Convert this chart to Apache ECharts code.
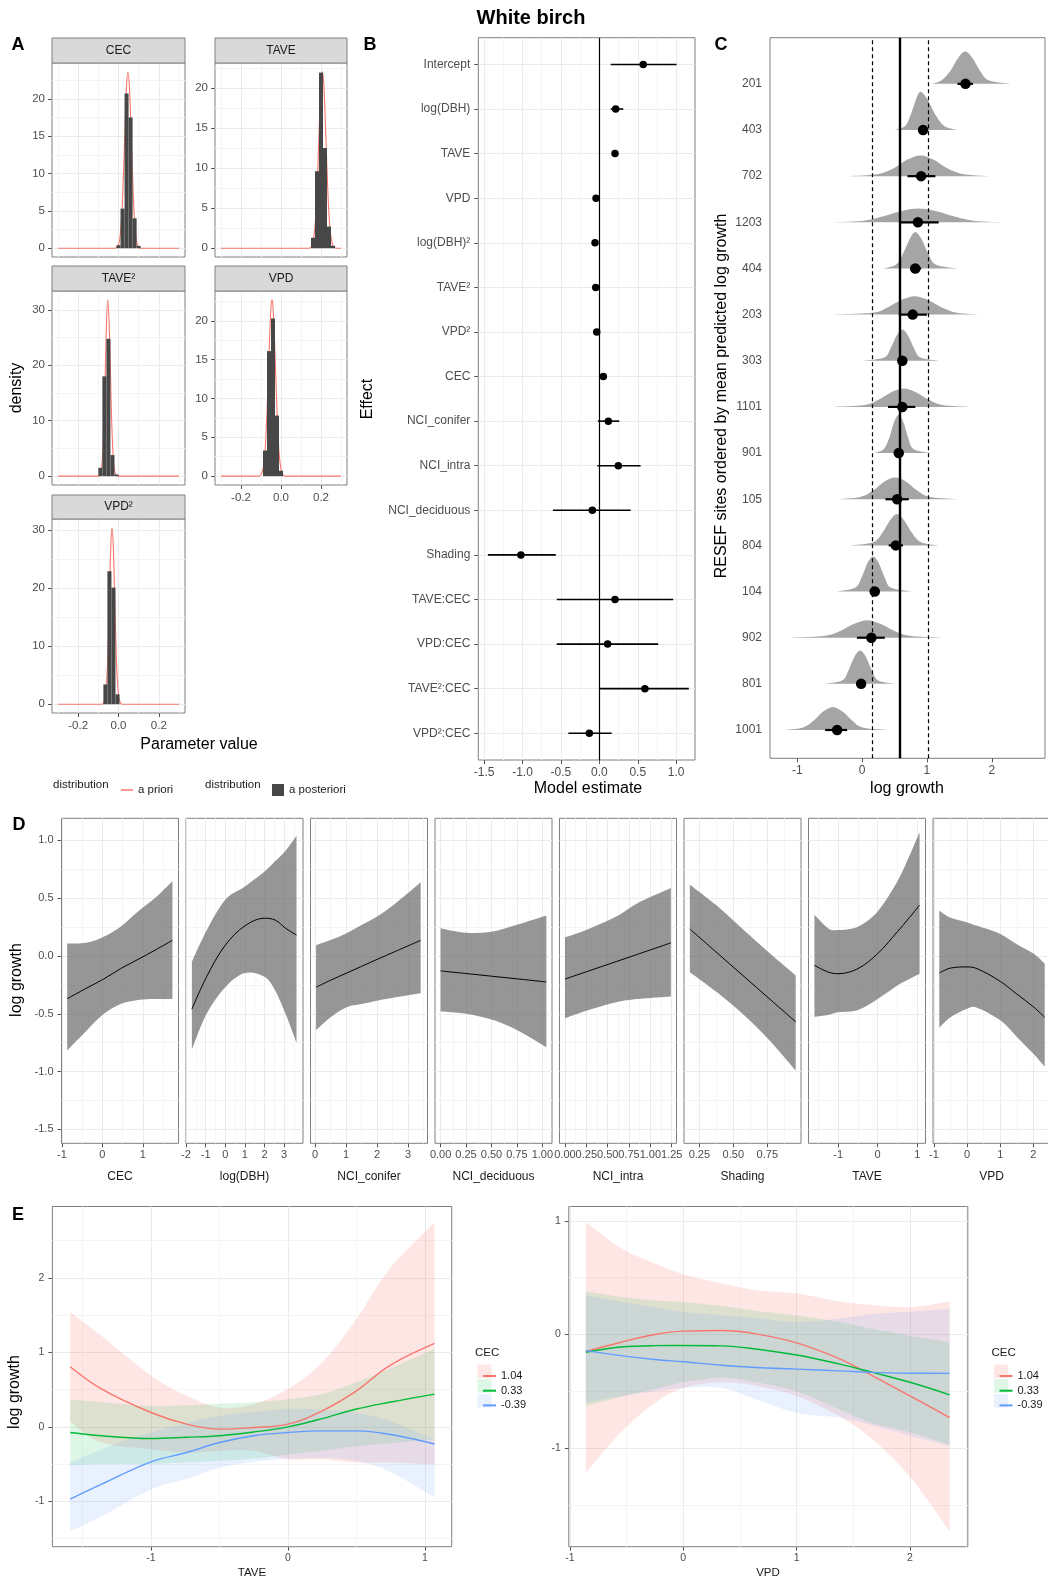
<!DOCTYPE html>
<html>
<head>
<meta charset="utf-8">
<title>White birch</title>
<script src="https://cdn.jsdelivr.net/npm/echarts@6/dist/echarts.min.js"></script>
<style>
  html, body { margin: 0; padding: 0; background: #fff; }
  #chart { width: 1048px; height: 1583px; }
</style>
</head>
<body>
<div id="chart"></div>
<script>
// ---------------- A: prior densities and posterior histograms ----------------
const paramNames = ['CEC', 'TAVE', 'TAVE²', 'VPD', 'VPD²'];

const priorCEC = [[-0.3,0],[-0.02,0],[0,0.5],[0.01,2.1],[0.02,6.6],[0.03,14.2],[0.04,21.7],[0.047,23.6],[0.055,21.1],[0.065,13.4],[0.075,6.0],[0.085,1.9],[0.095,0.4],[0.11,0],[0.3,0]];
const priorTAVE = [[-0.3,0],[0.14,0],[0.15,0.15],[0.16,0.8],[0.17,2.7],[0.18,7.3],[0.19,14.2],[0.2,20.4],[0.207,22.0],[0.215,20.0],[0.225,13.4],[0.235,6.6],[0.245,2.4],[0.255,0.7],[0.265,0.1],[0.28,0],[0.3,0]];
const priorTAVE2 = [[-0.3,0],[-0.1,0],[-0.09,0.4],[-0.08,3.1],[-0.07,12.6],[-0.06,27.2],[-0.053,31.8],[-0.045,25.9],[-0.035,11.3],[-0.025,2.6],[-0.015,0.3],[-0.005,0],[0.3,0]];
const priorVPD = [[-0.3,0],[-0.11,0],[-0.1,0.2],[-0.09,0.9],[-0.08,3.1],[-0.07,8.3],[-0.06,15.8],[-0.05,21.8],[-0.045,22.7],[-0.04,21.8],[-0.03,15.8],[-0.02,8.3],[-0.01,3.1],[0,0.9],[0.01,0.2],[0.02,0],[0.3,0]];
const priorVPD2 = [[-0.3,0],[-0.085,0],[-0.075,0.1],[-0.065,1.3],[-0.055,6.5],[-0.045,18.6],[-0.038,27.4],[-0.032,30.4],[-0.026,27.4],[-0.019,18.6],[-0.009,6.5],[0.001,1.3],[0.011,0.1],[0.02,0],[0.3,0]];
const priorCurves = [priorCEC, priorTAVE, priorTAVE2, priorVPD, priorVPD2];

const binWidth = 0.02;
const postEdges = [
  [-0.01, 0.01, 0.03, 0.05, 0.07, 0.09],
  [0.15, 0.17, 0.19, 0.21, 0.23, 0.25],
  [-0.1, -0.08, -0.06, -0.04, -0.02],
  [-0.09, -0.07, -0.05, -0.03, -0.01],
  [-0.075, -0.055, -0.035, -0.015]
];
const postDensity = [
  [0.4, 5.3, 20.7, 17.5, 4.0, 0.3],
  [1.3, 9.6, 21.9, 12.5, 2.7, 0.3],
  [1.5, 18.0, 24.8, 3.8, 0.3],
  [3.3, 16.1, 20.3, 7.8, 0.7],
  [3.4, 22.9, 20.1, 1.7]
];
const paramTicks = [-0.2, 0, 0.2];
const paramMinor = [-0.3, -0.1, 0.1, 0.3];
const densTicks = [[0,5,10,15,20],[0,5,10,15,20],[0,10,20,30],[0,5,10,15,20],[0,10,20,30]];
const densMinor = [[2.5,7.5,12.5,17.5,22.5],[2.5,7.5,12.5,17.5,22.5],[5,15,25],[2.5,7.5,12.5,17.5,22.5],[5,15,25]];
const densRange = [[-1.18,24.8],[-1.1,23.1],[-1.6,33.4],[-1.14,23.84],[-1.52,31.92]];

// ---------------- B: model estimates ----------------
const effects = ['Intercept','log(DBH)','TAVE','VPD','log(DBH)²','TAVE²','VPD²','CEC','NCI_conifer','NCI_intra','NCI_deciduous','Shading','TAVE:CEC','VPD:CEC','TAVE²:CEC','VPD²:CEC'];
const effectEst = [0.571, 0.213, 0.204, -0.043, -0.056, -0.047, -0.034, 0.052, 0.117, 0.247, -0.091, -1.021, 0.204, 0.108, 0.593, -0.13];
const effectLo  = [0.148, 0.148, 0.17, -0.07, -0.09, -0.07, -0.06, 0.03, -0.02, -0.026, -0.605, -1.45, -0.554, -0.554, 0.009, -0.403];
const effectHi  = [1.005, 0.312, 0.24, -0.02, -0.03, -0.02, -0.01, 0.08, 0.26, 0.537, 0.408, -0.566, 0.961, 0.766, 1.165, 0.16];
const estTicks = [-1.5, -1, -0.5, 0, 0.5, 1];
const estMinor = [-1.25, -0.75, -0.25, 0.25, 0.75];

// ---------------- C: predicted log growth per RESEF site ----------------
const sites    = ['201','403','702','1203','404','203','303','1101','901','105','804','104','902','801','1001'];
const siteMean = [1.594, 0.94, 0.91, 0.86, 0.82, 0.78, 0.62, 0.62, 0.565, 0.54, 0.52, 0.195, 0.143, -0.015, -0.385];
const siteLo   = [1.47, 0.88, 0.70, 0.575, 0.74, 0.565, 0.55, 0.40, 0.52, 0.36, 0.41, 0.12, -0.08, -0.09, -0.57];
const siteHi   = [1.71, 1.0, 1.13, 1.18, 0.91, 1.0, 0.69, 0.82, 0.61, 0.72, 0.63, 0.27, 0.35, 0.05, -0.23];
const ridgeX = [
  [1.08, 1.22, 1.36, 1.48, 1.59, 1.70, 1.82, 1.96, 2.29],
  [0.5, 0.66, 0.75, 0.83, 0.90, 1.01, 1.13, 1.27, 1.47],
  [-0.2, 0.25, 0.5, 0.7, 0.9, 1.1, 1.3, 1.55, 1.95],
  [-0.54, 0.0, 0.3, 0.59, 0.87, 1.15, 1.44, 1.74, 2.24],
  [0.32, 0.52, 0.63, 0.73, 0.82, 0.92, 1.02, 1.14, 1.47],
  [-0.54, 0.16, 0.4, 0.61, 0.81, 1.01, 1.22, 1.46, 1.83],
  [0.02, 0.34, 0.44, 0.53, 0.62, 0.71, 0.80, 0.90, 1.18],
  [-0.44, 0.04, 0.26, 0.45, 0.64, 0.83, 1.02, 1.24, 1.65],
  [0.17, 0.33, 0.42, 0.49, 0.565, 0.64, 0.71, 0.80, 1.1],
  [-0.39, -0.03, 0.17, 0.34, 0.51, 0.68, 0.85, 1.05, 1.52],
  [-0.18, 0.17, 0.31, 0.43, 0.54, 0.65, 0.77, 0.91, 1.18],
  [-0.39, -0.11, -0.01, 0.08, 0.17, 0.26, 0.35, 0.45, 0.77],
  [-1.1, -0.57, -0.33, -0.12, 0.08, 0.28, 0.49, 0.73, 1.23],
  [-0.57, -0.31, -0.21, -0.12, -0.03, 0.06, 0.15, 0.25, 0.49],
  [-1.21, -0.92, -0.75, -0.6, -0.45, -0.3, -0.15, 0.02, 0.44]
];
const ridgeH = [
  [0, .07, .28, .56, .70, .56, .28, .07, 0],
  [0, .08, .33, .66, .83, .66, .33, .08, 0],
  [0, .045, .18, .36, .45, .36, .18, .045, 0],
  [0, .03, .12, .24, .30, .24, .12, .03, 0],
  [0, .08, .32, .63, .79, .63, .32, .08, 0],
  [0, .04, .16, .32, .40, .32, .16, .04, 0],
  [0, .07, .27, .54, .68, .54, .27, .07, 0],
  [0, .04, .16, .32, .40, .32, .16, .04, 0],
  [0, .08, .33, .66, .83, .66, .33, .08, 0],
  [0, .05, .19, .38, .47, .38, .19, .05, 0],
  [0, .07, .27, .54, .68, .54, .27, .07, 0],
  [0, .08, .30, .61, .76, .61, .30, .08, 0],
  [0, .04, .15, .30, .38, .30, .15, .04, 0],
  [0, .07, .29, .58, .72, .58, .29, .07, 0],
  [0, .05, .20, .40, .50, .40, .20, .05, 0]
];
const growthMean = 0.58;
const growthBand = [0.154, 1.02];
const growthTicks = [-1, 0, 1, 2];

// ---------------- D: marginal effects ----------------
const effFacets = ['CEC','log(DBH)','NCI_conifer','NCI_deciduous','NCI_intra','Shading','TAVE','VPD'];
const effX = [
  [-0.87, -0.4, 0.03, 0.45, 0.88, 1.3, 1.73],
  [-1.7, -0.95, 0, 1, 2, 2.55, 3.07, 3.63],
  [0.03, 0.5, 1.0, 1.5, 2.0, 2.6, 3.41],
  [0, 0.25, 0.5, 0.75, 1.04],
  [0, 0.25, 0.6, 0.85, 1.24],
  [0.18, 0.38, 0.57, 0.77, 0.959],
  [-1.6, -1.25, -1.0, -0.5, 0, 0.5, 0.8, 1.06],
  [-0.84, -0.5, 0, 0.3, 1, 1.5, 2, 2.34]
];
const effFit = [
  [-0.37, -0.28, -0.2, -0.11, -0.03, 0.05, 0.135],
  [-0.46, -0.18, 0.093, 0.26, 0.326, 0.31, 0.24, 0.18],
  [-0.27, -0.21, -0.15, -0.09, -0.03, 0.04, 0.135],
  [-0.13, -0.152, -0.175, -0.198, -0.225],
  [-0.2, -0.137, -0.049, 0.014, 0.113],
  [0.233, 0.027, -0.169, -0.375, -0.57],
  [-0.081, -0.14, -0.154, -0.11, 0.02, 0.21, 0.33, 0.44],
  [-0.147, -0.105, -0.095, -0.11, -0.22, -0.33, -0.44, -0.53]
];
const effLo = [
  [-0.817, -0.648, -0.503, -0.416, -0.381, -0.372, -0.372],
  [-0.81, -0.50, -0.27, -0.148, -0.18, -0.30, -0.50, -0.75],
  [-0.642, -0.53, -0.445, -0.416, -0.387, -0.358, -0.323],
  [-0.48, -0.5, -0.55, -0.64, -0.79],
  [-0.54, -0.474, -0.40, -0.372, -0.35],
  [-0.14, -0.314, -0.503, -0.735, -0.99],
  [-0.526, -0.51, -0.488, -0.468, -0.372, -0.256, -0.2, -0.154],
  [-0.62, -0.53, -0.456, -0.447, -0.557, -0.70, -0.846, -0.956]
];
const effHi = [
  [0.108, 0.113, 0.166, 0.253, 0.384, 0.5, 0.645],
  [-0.05, 0.22, 0.485, 0.60, 0.73, 0.82, 0.91, 1.04],
  [0.093, 0.137, 0.195, 0.267, 0.34, 0.456, 0.637],
  [0.24, 0.2, 0.21, 0.27, 0.35],
  [0.16, 0.224, 0.34, 0.456, 0.587],
  [0.616, 0.433, 0.23, 0.02, -0.169],
  [0.355, 0.238, 0.224, 0.253, 0.384, 0.645, 0.863, 1.067],
  [0.39, 0.33, 0.29, 0.26, 0.19, 0.1, 0.02, -0.066]
];
const effTicks = [[-1,0,1],[-2,-1,0,1,2,3],[0,1,2,3],[0,0.25,0.5,0.75,1],[0,0.25,0.5,0.75,1,1.25],[0.25,0.5,0.75],[-1,0,1],[-1,0,1,2]];
const effMinor = [[-0.5,0.5,1.5],[-1.5,-0.5,0.5,1.5,2.5,3.5],[0.5,1.5,2.5,3.5],[0.125,0.375,0.625,0.875],[0.125,0.375,0.625,0.875,1.125],[0.375,0.625,0.875],[-1.5,-0.5,0.5],[-0.5,0.5,1.5,2.5]];
const effDecimals = [0, 0, 0, 2, 2, 2, 0, 0];
const effRange = [[-1.01,1.88],[-2.0,3.96],[-0.15,3.63],[-0.055,1.095],[-0.064,1.306],[0.137,0.998],[-1.75,1.21],[-1.03,2.5]];
const growthAxisTicks = [-1.5, -1, -0.5, 0, 0.5, 1];
const growthAxisMinor = [-1.25, -0.75, -0.25, 0.25, 0.75];

// ---------------- E: interactions with CEC ----------------
const cecLevels = ['1.04', '0.33', '-0.39'];
const taveX = [-1.59, -1.36, -1.0, -0.74, -0.5, -0.25, 0, 0.25, 0.5, 0.74, 1.07];
const taveFit = [
  [0.807, 0.507, 0.193, 0.036, -0.031, -0.009, 0.036, 0.215, 0.484, 0.82, 1.12],
  [-0.076, -0.12, -0.157, -0.14, -0.12, -0.07, 0, 0.11, 0.24, 0.33, 0.44],
  [-0.97, -0.77, -0.47, -0.345, -0.21, -0.12, -0.076, -0.054, -0.054, -0.1, -0.23]
];
const taveLo = [
  [0.07, -0.21, -0.3, -0.345, -0.32, -0.32, -0.435, -0.435, -0.48, -0.48, -0.51],
  [-0.52, -0.5, -0.5, -0.48, -0.46, -0.43, -0.37, -0.32, -0.26, -0.22, -0.17],
  [-1.4, -1.2, -0.84, -0.7, -0.55, -0.47, -0.43, -0.42, -0.46, -0.6, -0.95]
];
const taveHi = [
  [1.54, 1.22, 0.686, 0.417, 0.26, 0.305, 0.507, 0.865, 1.45, 2.12, 2.75],
  [0.37, 0.33, 0.28, 0.29, 0.31, 0.33, 0.37, 0.44, 0.6, 0.78, 1.05],
  [-0.48, -0.3, -0.076, 0.05, 0.15, 0.2, 0.24, 0.23, 0.19, 0.08, -0.17]
];
const vpdX = [-0.86, -0.55, -0.25, 0, 0.34, 0.64, 1.0, 1.38, 1.67, 2.0, 2.35];
const vpdFit = [
  [-0.15, -0.068, 0, 0.03, 0.035, 0.006, -0.074, -0.215, -0.363, -0.54, -0.73],
  [-0.156, -0.11, -0.098, -0.097, -0.1, -0.127, -0.18, -0.26, -0.333, -0.42, -0.53],
  [-0.142, -0.186, -0.22, -0.24, -0.27, -0.29, -0.304, -0.32, -0.333, -0.34, -0.342]
];
const vpdLo = [
  [-1.22, -0.86, -0.6, -0.47, -0.42, -0.45, -0.54, -0.72, -0.92, -1.25, -1.73],
  [-0.63, -0.55, -0.48, -0.42, -0.38, -0.42, -0.5, -0.66, -0.78, -0.86, -0.97],
  [-0.6, -0.54, -0.5, -0.47, -0.47, -0.57, -0.69, -0.73, -0.8, -0.89, -0.98]
];
const vpdHi = [
  [0.99, 0.76, 0.625, 0.53, 0.45, 0.39, 0.36, 0.29, 0.26, 0.24, 0.29],
  [0.38, 0.33, 0.30, 0.286, 0.25, 0.21, 0.168, 0.11, 0.05, -0.01, -0.068],
  [0.345, 0.286, 0.24, 0.2, 0.17, 0.145, 0.11, 0.14, 0.18, 0.2, 0.227]
];

// ---------------- styling ----------------
const FONT = '"Liberation Sans", Arial, Helvetica, sans-serif';
const GRID_MAJOR = '#ebebeb';
const GRID_MINOR = '#f5f5f5';
const BORDER = '#7f7f7f';
const TICK = '#555555';
const LABEL = '#4d4d4d';
const cecColors = ['#F8766D', '#00BA38', '#619CFF'];
const cecFills = ['rgba(248,118,109,0.18)', 'rgba(0,186,56,0.13)', 'rgba(97,156,255,0.14)'];

const option = {
  animation: false,
  backgroundColor: '#ffffff',
  textStyle: { fontFamily: FONT },
  grid: [], xAxis: [], yAxis: [], series: [], legend: [], graphic: []
};

function axisPair(dim, g, range, s) {
  const main = {
    type: 'value', gridIndex: g, min: range[0], max: range[1],
    position: dim === 'x' ? 'bottom' : 'left',
    axisLine: { show: false, onZero: false },
    axisTick: { show: !!s.ticks, length: 4, lineStyle: { color: TICK, width: 1 }, customValues: s.major },
    axisLabel: { show: !!s.labels, customValues: s.major, formatter: s.fmt, color: LABEL,
                 fontSize: s.fontSize || 11.5, margin: s.margin || 7, fontFamily: FONT },
    splitLine: { show: !!s.grid, lineStyle: { color: GRID_MAJOR, width: 1 } },
    minorTick: { show: false }, minorSplitLine: { show: false }
  };
  const minorVals = s.minor || [];
  const minor = {
    type: 'value', gridIndex: g, min: range[0], max: range[1],
    position: dim === 'x' ? 'top' : 'right',
    axisLine: { show: false, onZero: false },
    axisTick: { show: false, customValues: minorVals },
    axisLabel: { show: false, customValues: minorVals },
    splitLine: { show: !!s.grid && minorVals.length > 0, lineStyle: { color: GRID_MINOR, width: 1 } }
  };
  return [main, minor];
}

function panel(box, xr, yr, xs, ys) {
  const g = option.grid.length;
  option.grid.push({
    left: box[0], top: box[1], width: box[2], height: box[3],
    show: true, backgroundColor: '#ffffff', borderColor: BORDER, borderWidth: 1,
    containLabel: false, outerBoundsMode: 'none'
  });
  const xi = option.xAxis.length, yi = option.yAxis.length;
  option.xAxis.push(...axisPair('x', g, xr, xs));
  option.yAxis.push(...axisPair('y', g, yr, ys));
  return { x: xi, y: yi };
}

function txt(x, y, s, size, o) {
  o = o || {};
  option.graphic.push({
    type: 'text', x: x, y: y, z: 50, rotation: o.rot || 0, silent: true,
    style: { text: s, fill: o.fill || '#000', fontSize: size, fontFamily: FONT,
             fontWeight: o.weight || 'normal', textAlign: o.align || 'center', textVerticalAlign: 'middle' }
  });
}

function strip(x, y, w, h, s) {
  option.graphic.push({ type: 'rect', z: 40, silent: true, shape: { x: x, y: y, width: w, height: h },
    style: { fill: '#d9d9d9', stroke: BORDER, lineWidth: 1 } });
  txt(x + w / 2, y + h / 2, s, 12, { fill: '#1a1a1a' });
}

function barRect(params, api) {
  const a = api.coord([api.value(0), api.value(2)]);
  const b = api.coord([api.value(1), 0]);
  return { type: 'rect', shape: { x: a[0], y: a[1], width: b[0] - a[0], height: b[1] - a[1] },
           style: { fill: api.visual('color') } };
}

function segment(width) {
  return function (params, api) {
    const a = api.coord([api.value(0), api.value(2)]);
    const b = api.coord([api.value(1), api.value(2)]);
    return { type: 'line', shape: { x1: a[0], y1: a[1], x2: b[0], y2: b[1] },
             style: { stroke: '#000', lineWidth: width } };
  };
}

// cubic segments through pixel points (Catmull-Rom style, control x kept inside each span)
function curveThrough(pts, t) {
  let d = '';
  for (let i = 0; i < pts.length - 1; i++) {
    const p0 = pts[i - 1] || pts[i], p1 = pts[i], p2 = pts[i + 1], p3 = pts[i + 2] || pts[i + 1];
    let c1x = p1[0] + (p2[0] - p0[0]) * t, c1y = p1[1] + (p2[1] - p0[1]) * t;
    let c2x = p2[0] - (p3[0] - p1[0]) * t, c2y = p2[1] - (p3[1] - p1[1]) * t;
    const lo = Math.min(p1[0], p2[0]), hi = Math.max(p1[0], p2[0]);
    c1x = Math.min(hi, Math.max(lo, c1x));
    c2x = Math.min(hi, Math.max(lo, c2x));
    d += ' C' + c1x + ',' + c1y + ' ' + c2x + ',' + c2y + ' ' + p2[0] + ',' + p2[1];
  }
  return d;
}

// filled band between lo[] and hi[] over xs[], placed through the panel's axes
function band(ax, xs, lo, hi, fill, z) {
  option.series.push({
    type: 'custom', xAxisIndex: ax.x, yAxisIndex: ax.y, silent: true, z: z,
    data: [[xs[0], lo[0]]],
    renderItem: function (params, api) {
      const up = xs.map((x, i) => api.coord([x, hi[i]]));
      const dn = xs.map((x, i) => api.coord([x, lo[i]])).reverse();
      const d = 'M' + up[0][0] + ',' + up[0][1] + curveThrough(up, 1 / 6) +
                ' L' + dn[0][0] + ',' + dn[0][1] + curveThrough(dn, 1 / 6) + ' Z';
      return { type: 'path', shape: { pathData: d }, style: { fill: fill } };
    }
  });
}

// ================= title and panel letters =================
txt(531, 18, 'White birch', 20, { weight: 'bold' });
txt(18, 45, 'A', 18, { weight: 'bold' });
txt(370, 45, 'B', 18, { weight: 'bold' });
txt(721, 45, 'C', 18, { weight: 'bold' });
txt(19, 825, 'D', 18, { weight: 'bold' });
txt(18, 1215, 'E', 18, { weight: 'bold' });

// ================= A =================
const aBoxes = [[52, 63, 133, 194], [215, 63, 132, 194], [52, 291, 133, 194], [215, 291, 132, 194], [52, 519, 133, 194]];
const aStrips = [[52, 38, 133, 25], [215, 38, 132, 25], [52, 266, 133, 25], [215, 266, 132, 25], [52, 495, 133, 24]];
paramNames.forEach((nm, i) => {
  const showX = i >= 3;
  const ax = panel(aBoxes[i], [-0.33, 0.33], densRange[i],
    { major: paramTicks, minor: paramMinor, labels: showX, ticks: showX, grid: true, fmt: v => v.toFixed(1), fontSize: 11.5, margin: 7 },
    { major: densTicks[i], minor: densMinor[i], labels: true, ticks: true, grid: true, fmt: v => String(v), fontSize: 11.5, margin: 7 });
  option.series.push({
    type: 'line', name: 'a priori', xAxisIndex: ax.x, yAxisIndex: ax.y, data: priorCurves[i],
    smooth: 0.3, symbol: 'none', showSymbol: false, silent: true, z: 2,
    lineStyle: { color: '#F8766D', width: 1.1 }, itemStyle: { color: '#F8766D' }
  });
  option.series.push({
    type: 'custom', name: 'a posteriori', xAxisIndex: ax.x, yAxisIndex: ax.y, silent: true, z: 3,
    data: postEdges[i].map((e, k) => [e, e + binWidth, postDensity[i][k]]),
    encode: { x: [0, 1], y: 2 }, renderItem: barRect, itemStyle: { color: '#474747' }
  });
  strip(aStrips[i][0], aStrips[i][1], aStrips[i][2], aStrips[i][3], nm);
});
txt(17, 388, 'density', 16, { rot: Math.PI / 2 });
txt(199, 745, 'Parameter value', 16);
txt(53, 785, 'distribution', 11.5, { align: 'left', fill: '#1a1a1a' });
txt(205, 785, 'distribution', 11.5, { align: 'left', fill: '#1a1a1a' });
option.legend.push({
  data: [{ name: 'a priori', icon: 'rect' }], left: 116, top: 779, itemWidth: 12, itemHeight: 1.5,
  selectedMode: false, textStyle: { fontSize: 11.5, lineHeight: 12, color: '#1a1a1a', fontFamily: FONT }
});
option.legend.push({
  data: [{ name: 'a posteriori', icon: 'rect' }], left: 267, top: 779, itemWidth: 12, itemHeight: 12,
  selectedMode: false, textStyle: { fontSize: 11.5, lineHeight: 12, color: '#1a1a1a', fontFamily: FONT }
});

// ================= B =================
const nEff = effects.length;
const bAx = panel([478.3, 37.7, 216.7, 722.3], [-1.575, 1.245], [-0.6, nEff - 1 + 0.6],
  { major: estTicks, minor: estMinor, labels: true, ticks: true, grid: true, fmt: v => v.toFixed(1), fontSize: 12, margin: 7 },
  { major: effects.map((_, k) => k), minor: [], labels: true, ticks: true, grid: true,
    fmt: v => effects[nEff - 1 - v], fontSize: 12, margin: 8 });
option.series.push({
  type: 'custom', xAxisIndex: bAx.x, yAxisIndex: bAx.y, silent: true, z: 4,
  data: effects.map((_, k) => [effectLo[k], effectHi[k], nEff - 1 - k]),
  encode: { x: [0, 1], y: 2 }, renderItem: segment(1.6),
  markLine: { silent: true, symbol: ['none', 'none'], label: { show: false },
              lineStyle: { color: '#000', width: 1.2, type: 'solid' }, data: [{ xAxis: 0 }] }
});
option.series.push({
  type: 'scatter', xAxisIndex: bAx.x, yAxisIndex: bAx.y, silent: true, z: 6,
  data: effects.map((_, k) => [effectEst[k], nEff - 1 - k]),
  symbolSize: 7.5, itemStyle: { color: '#000', opacity: 1 }
});
txt(368, 399, 'Effect', 16, { rot: Math.PI / 2 });
txt(588, 789, 'Model estimate', 16);

// ================= C =================
const nSite = sites.length;
const cAx = panel([770, 37.7, 275, 720.6], [-1.42, 2.82], [-0.613, 15.0],
  { major: growthTicks, minor: [], labels: true, ticks: true, grid: false, fmt: v => String(v), fontSize: 12, margin: 6 },
  { major: sites.map((_, k) => k), minor: [], labels: true, ticks: false, grid: false,
    fmt: v => sites[nSite - 1 - v], fontSize: 12, margin: 8 });
sites.forEach((s, k) => {
  const row = nSite - 1 - k;
  band(cAx, ridgeX[k], ridgeX[k].map(() => row), ridgeH[k].map(h => row + h), '#a5a5a5', 2);
});
option.series.push({
  type: 'line', xAxisIndex: cAx.x, yAxisIndex: cAx.y, data: [], silent: true, z: 4,
  markLine: { silent: true, symbol: ['none', 'none'], label: { show: false },
    data: [
      { xAxis: growthMean, lineStyle: { color: '#000', width: 2.4, type: 'solid' } },
      { xAxis: growthBand[0], lineStyle: { color: '#000', width: 1.2, type: [4, 3] } },
      { xAxis: growthBand[1], lineStyle: { color: '#000', width: 1.2, type: [4, 3] } }
    ] }
});
option.series.push({
  type: 'custom', xAxisIndex: cAx.x, yAxisIndex: cAx.y, silent: true, z: 5,
  data: sites.map((_, k) => [siteLo[k], siteHi[k], nSite - 1 - k]),
  encode: { x: [0, 1], y: 2 }, renderItem: segment(2.2)
});
option.series.push({
  type: 'scatter', xAxisIndex: cAx.x, yAxisIndex: cAx.y, silent: true, z: 6,
  data: sites.map((_, k) => [siteMean[k], nSite - 1 - k]),
  symbolSize: 10.5, itemStyle: { color: '#000', opacity: 1 }
});
txt(722, 396, 'RESEF sites ordered by mean predicted log growth', 16, { rot: Math.PI / 2 });
txt(907, 789, 'log growth', 16);

// ================= D =================
effFacets.forEach((nm, i) => {
  const left = 61.5 + i * 124.5;
  const first = i === 0;
  const dec = effDecimals[i];
  const ax = panel([left, 818.3, 117, 325], effRange[i], [-1.62, 1.19],
    { major: effTicks[i], minor: effMinor[i], labels: true, ticks: true, grid: true, fmt: v => v.toFixed(dec), fontSize: 11, margin: 6 },
    { major: growthAxisTicks, minor: growthAxisMinor, labels: first, ticks: first, grid: true, fmt: v => v.toFixed(1), fontSize: 11, margin: 8 });
  band(ax, effX[i], effLo[i], effHi[i], 'rgba(105,105,105,0.7)', 2);
  option.series.push({
    type: 'line', xAxisIndex: ax.x, yAxisIndex: ax.y, silent: true, z: 5,
    data: effX[i].map((x, k) => [x, effFit[i][k]]), smooth: 0.35, symbol: 'none', showSymbol: false,
    lineStyle: { color: '#000', width: 1 }
  });
  txt(left + 58.5, 1177, nm, 12, { fill: '#1a1a1a' });
});
txt(17, 980, 'log growth', 16, { rot: Math.PI / 2 });

// ================= E =================
function interactionPanel(box, xr, yr, xTicks, xMinor, yTicks, yMinor, xs, fits, los, his) {
  const ax = panel(box, xr, yr,
    { major: xTicks, minor: xMinor, labels: true, ticks: true, grid: true, fmt: v => String(v), fontSize: 10.5, margin: 6 },
    { major: yTicks, minor: yMinor, labels: true, ticks: true, grid: true, fmt: v => String(v), fontSize: 10.5, margin: 8 });
  cecLevels.forEach((lv, g) => band(ax, xs, los[g], his[g], cecFills[g], 2));
  cecLevels.forEach((lv, g) => {
    option.series.push({
      type: 'line', name: lv, xAxisIndex: ax.x, yAxisIndex: ax.y, silent: true, z: 5,
      data: xs.map((x, k) => [x, fits[g][k]]), smooth: 0.4, symbol: 'none', showSymbol: false,
      lineStyle: { color: cecColors[g], width: 1.4 }, itemStyle: { color: cecColors[g] }
    });
  });
}
interactionPanel([52.4, 1206.5, 399.3, 340.2], [-1.72, 1.195], [-1.61, 2.96],
  [-1, 0, 1], [-1.5, -0.5, 0.5], [-1, 0, 1, 2], [-1.5, -0.5, 0.5, 1.5, 2.5],
  taveX, taveFit, taveLo, taveHi);
interactionPanel([568.8, 1206.5, 399, 340.2], [-1.01, 2.51], [-1.866, 1.126],
  [-1, 0, 1, 2], [-0.5, 0.5, 1.5, 2.5], [-1, 0, 1], [-1.5, -0.5, 0.5],
  vpdX, vpdFit, vpdLo, vpdHi);
txt(15, 1392, 'log growth', 16, { rot: Math.PI / 2 });
txt(252, 1573, 'TAVE', 11.5, { fill: '#1a1a1a' });
txt(768, 1573, 'VPD', 11.5, { fill: '#1a1a1a' });
[[475, 478], [991.4, 994.5]].forEach(pos => {
  txt(pos[0], 1352.7, 'CEC', 11.5, { align: 'left', fill: '#1a1a1a' });
  cecFills.forEach((f, g) => {
    option.graphic.push({ type: 'rect', z: 1, silent: true,
      shape: { x: pos[1] - 0.5, y: 1364.5 + g * 14.7, width: 14, height: 13.5 }, style: { fill: f } });
  });
  option.legend.push({
    data: cecLevels.map(n => ({ name: n, icon: 'rect' })), orient: 'vertical', left: pos[1], top: 1365,
    itemWidth: 13, itemHeight: 2, itemGap: 2.7, selectedMode: false,
    textStyle: { fontSize: 11, lineHeight: 12, color: '#1a1a1a', fontFamily: FONT }
  });
});

const chart = echarts.init(document.getElementById('chart'), null, { renderer: 'canvas', width: 1048, height: 1583 });
chart.setOption(option);
</script>
</body>
</html>
